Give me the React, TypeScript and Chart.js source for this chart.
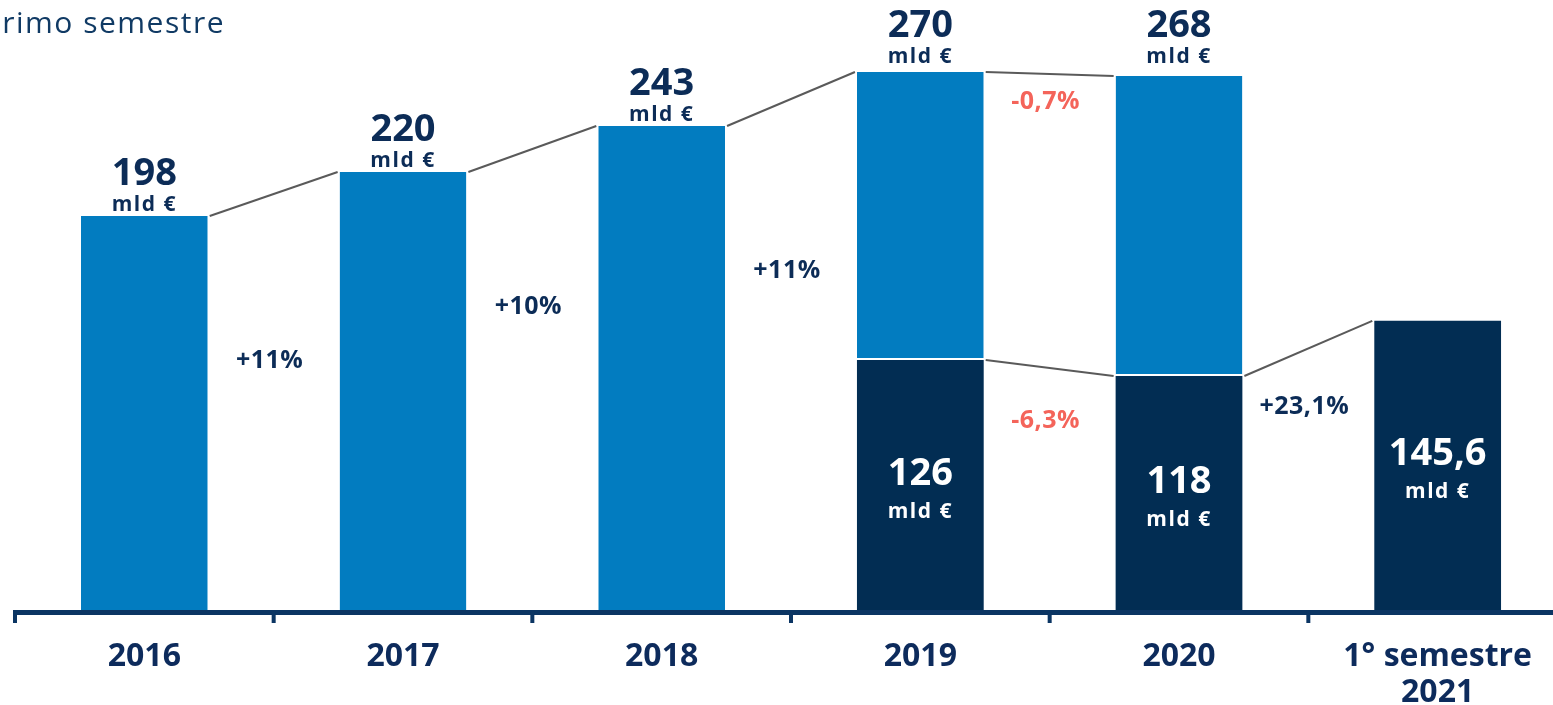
import React, { useEffect, useRef } from "react";
import { Chart, registerables } from "chart.js";

Chart.register(...registerables);

// ---- data ----
const categories: (string | string[])[] = ["2016", "2017", "2018", "2019", "2020", ["1° semestre", "2021"]];
const totalValues: (number | null)[] = [198, 220, 243, 270, 268, null];
const semesterValues: (number | null)[] = [null, null, null, 126, 118, 145.6];
const changeText = ["+11%", "+10%", "+11%", "-0,7%", "-6,3%", "+23,1%"];
const changeFrom = [0, 1, 2, 3, 3, 4];
// label anchor heights (value units)
const changeAnchor = [125.5, 152.5, 170.5, 255, 95.5, 102.5];
const unitText = "mld €";
const titleText = "primo semestre";

const restValues = totalValues.map((t, i) =>
  t == null ? null : t - (semesterValues[i] ?? 0)
);

const LIGHT = "#027cc0";
const DARK = "#022d53";
const NAVY = "#0c2c57";
const RED = "#f4645a";
const AXIS = "#0b3563";
const FONT = "'Open Sans', sans-serif";

const fmt = (v: number) => String(v).replace(".", ",");

const overlayPlugin = {
  id: "overlay",
  afterDatasetsDraw(chart: any) {
    const ctx = chart.ctx as any;
    const xs = chart.scales.x;
    const ys = chart.scales.y;
    const area = chart.chartArea;
    const n = categories.length;
    const catW = (area.right - area.left) / n;
    const barW = chart.getDatasetMeta(1).data[0].width;
    const cx = (i: number) => xs.getPixelForValue(i);
    const py = (v: number) => ys.getPixelForValue(v);

    ctx.save();
    // connectors
    ctx.strokeStyle = "#5a5a5a";
    ctx.lineWidth = 2;
    const connect = (arr: (number | null)[]) => {
      for (let i = 0; i < n - 1; i++) {
        const a = arr[i], b = arr[i + 1];
        if (a == null || b == null) continue;
        ctx.beginPath();
        ctx.moveTo(cx(i) + barW / 2 + 2, py(a));
        ctx.lineTo(cx(i + 1) - barW / 2 - 2, py(b));
        ctx.stroke();
      }
    };
    connect(totalValues);
    connect(semesterValues);

    // total labels above bars
    ctx.textAlign = "center";
    ctx.textBaseline = "alphabetic";
    totalValues.forEach((t, i) => {
      if (t == null) return;
      const top = py(t) < 90 ? 68 : py(t);
      ctx.fillStyle = NAVY;
      ctx.letterSpacing = "0px";
      ctx.font = `bold 38px ${FONT}`;
      ctx.fillText(fmt(t), cx(i), top - 31);
      ctx.letterSpacing = "1.5px";
      ctx.font = `bold 21px ${FONT}`;
      ctx.fillText(unitText, cx(i), top - 5);
    });

    // semester labels inside dark bars
    semesterValues.forEach((s, i) => {
      if (s == null) return;
      const mid = (py(s) + py(0)) / 2;
      ctx.fillStyle = "#ffffff";
      ctx.letterSpacing = "0px";
      ctx.font = `bold 38px ${FONT}`;
      ctx.fillText(fmt(s), cx(i), mid - 1);
      ctx.letterSpacing = "1.5px";
      ctx.font = `bold 21px ${FONT}`;
      ctx.fillText(unitText, cx(i), mid + 32);
    });

    // change labels
    ctx.textBaseline = "middle";
    ctx.letterSpacing = "0.5px";
    ctx.font = `bold 25px ${FONT}`;
    changeText.forEach((txt, k) => {
      const bx = cx(changeFrom[k]) + catW / 2 - 4;
      ctx.fillStyle = txt.startsWith("-") ? RED : NAVY;
      ctx.fillText(txt, bx, py(changeAnchor[k]));
    });

    // axis line + ticks
    const base = py(0);
    ctx.fillStyle = AXIS;
    ctx.fillRect(area.left - 2, base - 2, chart.width, 5);
    for (let i = 0; i < n; i++) {
      const bx = cx(i) - catW / 2;
      ctx.fillRect(bx - 2, base, 4, 11);
    }

    // category labels
    ctx.textBaseline = "alphabetic";
    ctx.letterSpacing = "0px";
    ctx.fillStyle = "#0d2b5c";
    ctx.font = `bold 32px ${FONT}`;
    categories.forEach((c, i) => {
      const lines = Array.isArray(c) ? c : [c];
      lines.forEach((ln, j) => ctx.fillText(ln, cx(i), base + 54 + j * 36));
    });

    // title (cut at left edge)
    ctx.textAlign = "right";
    ctx.fillStyle = "#103a64";
    ctx.letterSpacing = "1.5px";
    ctx.font = `30px ${FONT}`;
    ctx.fillText(titleText, 225, 33);
    ctx.restore();
  },
};

export default function App() {
  const ref = useRef<HTMLCanvasElement>(null);
  useEffect(() => {
    if (!ref.current) return;
    const chart = new Chart(ref.current, {
      type: "bar",
      data: {
        labels: categories as any,
        datasets: [
          {
            label: "Primo semestre",
            data: semesterValues as any,
            backgroundColor: DARK,
            borderWidth: 0,
            stack: "s",
          },
          {
            label: "Resto dell'anno",
            data: restValues as any,
            backgroundColor: LIGHT,
            borderColor: "#ffffff",
            borderWidth: { top: 0, left: 0, right: 0, bottom: 2 } as any,
            borderSkipped: false,
            stack: "s",
          },
        ],
      },
      options: {
        responsive: false,
        animation: false,
        devicePixelRatio: 1,
        layout: { padding: { left: 15, right: 13, top: 0, bottom: 93 } },
        datasets: { bar: { categoryPercentage: 1, barPercentage: 0.49 } },
        plugins: { legend: { display: false }, tooltip: { enabled: false } },
        scales: {
          x: { stacked: true, display: false },
          y: { stacked: true, display: false, min: 0, max: 306 },
        },
      },
      plugins: [overlayPlugin],
    });
    return () => chart.destroy();
  }, []);
  return (
    <div style={{ position: "fixed", left: 0, top: 0, width: 1553, height: 705, overflow: "hidden", background: "#fff" }}>
      <canvas ref={ref} width={1580} height={705} style={{ display: "block" }} />
    </div>
  );
}
